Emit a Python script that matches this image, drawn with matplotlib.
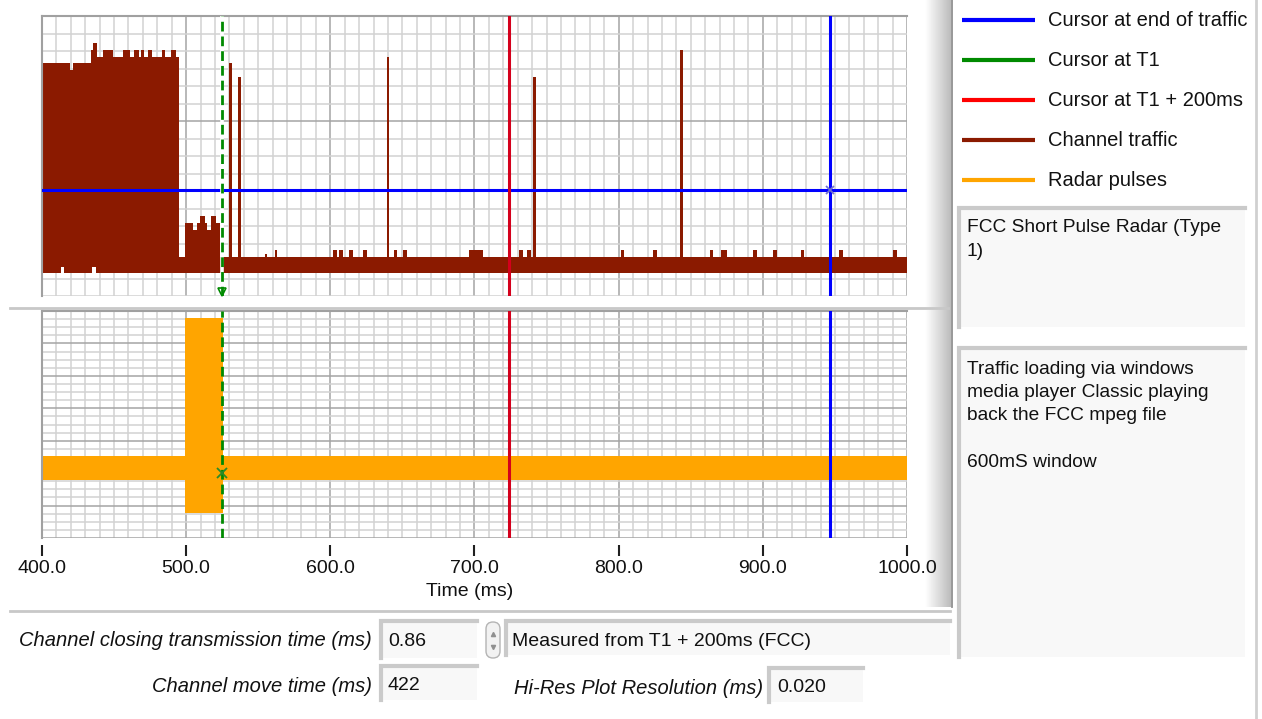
import numpy as np
import matplotlib.pyplot as plt
from matplotlib.patches import Rectangle, FancyBboxPatch
from matplotlib.ticker import MultipleLocator, FormatStrFormatter

plt.rcParams['font.family'] = ['Liberation Sans', 'DejaVu Sans']

# channel traffic: upper envelope as steps (time ms, level)
upper_t = [400, 419.4, 421.7, 433.8, 435.6, 438.4, 442.5, 449.5, 456.4, 461.0, 463.8, 467.5,
           468.4, 470.7, 473.7, 476.0, 483.0, 485.3, 489.3, 492.7, 495.3, 499.2, 505.0,
           507.3, 509.6, 513.0, 514.2, 517.0, 520.7, 523.5, 1000]
upper_v = [13.33, 12.91, 13.33, 14.06, 14.47, 13.64, 14.06, 13.64, 14.06, 13.64, 14.06, 13.64,
           14.06, 13.64, 14.06, 13.64, 14.06, 13.64, 14.06, 13.64, 2.21, 4.19, 3.77,
           4.19, 4.57, 4.19, 3.77, 4.57, 4.19, 2.21, 2.21]
lower_t = [400, 413.2, 415.5, 434.5, 437.2, 1000]
lower_v = [1.33, 1.68, 1.33, 1.68, 1.33, 1.33]

# isolated traffic spikes (start, end, top)
spike_start = [529.6, 535.8, 639.1, 740.8, 842.5]
spike_end = [531.6, 537.9, 640.7, 742.6, 844.6]
spike_top = [13.33, 12.5, 13.66, 12.5, 14.06]

# small bumps on the traffic baseline
bump_start = [554.7, 561.6, 601.6, 606.2, 613.2, 622.9, 644.2, 650.6, 696.4, 731.0, 736.6,
              801.4, 824.0, 863.4, 870.8, 893.4, 907.3, 926.3, 953.0, 990.5]
bump_end = [555.9, 563.2, 604.4, 609.0, 616.0, 625.6, 646.4, 653.0, 706.1, 733.8, 738.9,
            803.7, 826.3, 865.7, 875.4, 895.7, 909.6, 928.6, 955.4, 992.8]
bump_top = [2.4] + [2.63] * 19

# radar pulses envelope
radar_t = [400, 499.2, 525.5, 1000]
radar_hi = [2.54, 6.78, 2.54, 2.54]
radar_lo = [1.79, 0.76, 1.79, 1.79]

# cursors
t1 = 524.9
t1_200 = 724.2
t_end = 946.3
h_cursor = 6.06
radar_mark = 2.0

legend_labels = ['Cursor at end of traffic', 'Cursor at T1', 'Cursor at T1 + 200ms',
                 'Channel traffic', 'Radar pulses']
legend_colors = ['#0000ff', '#008a00', '#ff0000', '#8b1a00', '#ffa500']

note1 = ['FCC Short Pulse Radar (Type', '1)']
note2 = ['Traffic loading via windows', 'media player Classic playing',
         'back the FCC mpeg file', '', '600mS window']

BROWN = '#8b1a00'
ORANGE = '#ffa500'

W, H = 1262, 719
fig = plt.figure(figsize=(W / 100, H / 100), dpi=100)


def box(x0, y0, x1, y1):
    return [x0 / W, 1 - y1 / H, (x1 - x0) / W, (y1 - y0) / H]


# ui layer in pixel coordinates
ui = fig.add_axes([0, 0, 1, 1])
ui.set_zorder(0)
ui.axis('off')

grad = np.linspace(1.0, 0.74, 40)[None, :]
ui.imshow(grad, extent=[925, 951, 607, 0], cmap='gray', vmin=0, vmax=1, aspect='auto')
ui.plot([952, 952], [0, 607], color='#909090', lw=1.3)
ui.plot([10, 948], [308, 308], color='#c8c8c8', lw=2)
ui.plot([10, 950], [611, 611], color='#c8c8c8', lw=2)
ui.plot([1256, 1256], [0, H], color='#d0d0d0', lw=2)


def bevel(x0, y0, x1, y1):
    ui.add_patch(Rectangle((x0, y0), x1 - x0, y1 - y0, facecolor='#f8f8f8', edgecolor='none'))
    ui.plot([x0 + 1, x0 + 1, x1], [y1, y0 + 1, y0 + 1], color='#cacaca', lw=3,
            solid_joinstyle='miter')


bevel(958, 207, 1245, 327)
bevel(958, 347, 1245, 657)
bevel(380, 620, 477, 658)
bevel(380, 665, 477, 700)
bevel(505, 620, 950, 655)
bevel(768, 667, 863, 702)

ui.add_patch(FancyBboxPatch((486, 622), 14, 36, boxstyle='round,pad=0,rounding_size=7',
                            facecolor='#f2f2f2', edgecolor='#b4b4b4', lw=1))
ui.plot([493], [634], marker='^', ms=3, color='#909090')
ui.plot([493], [647], marker='v', ms=3, color='#909090')

fs = 14
fs_big = 14.5
for i, (lab, col) in enumerate(zip(legend_labels, legend_colors)):
    y = 20 + 40 * i
    ui.plot([962, 1035], [y, y], color=col, lw=3.0, solid_capstyle='butt')
    ui.text(1048, y, lab, fontsize=fs_big, va='center', ha='left', color='#111')

for i, line in enumerate(note1):
    ui.text(967, 228 + 23.5 * i, line, fontsize=13.8, va='center', color='#111')
for i, line in enumerate(note2):
    ui.text(967, 369 + 23.3 * i, line, fontsize=13.8, va='center', color='#111')

ui.text(372, 641, 'Channel closing transmission time (ms)', fontsize=fs_big, style='italic',
        ha='right', va='center', color='#111')
ui.text(372, 686, 'Channel move time (ms)', fontsize=fs_big, style='italic',
        ha='right', va='center', color='#111')
ui.text(763, 688, 'Hi-Res Plot Resolution (ms)', fontsize=fs_big, style='italic',
        ha='right', va='center', color='#111')
ui.text(388, 641, '0.86', fontsize=fs, va='center', color='#111')
ui.text(388, 686, '422', fontsize=fs, va='center', color='#111')
ui.text(512, 641, 'Measured from T1 + 200ms (FCC)', fontsize=fs, va='center', color='#111')
ui.text(777, 688, '0.020', fontsize=fs, va='center', color='#111')
ui.text(470, 592, 'Time (ms)', fontsize=fs, ha='center', va='center', color='#111')

ui.set_xlim(0, W)
ui.set_ylim(H, 0)


def style_grid(ax):
    ax.set_facecolor('white')
    ax.xaxis.set_major_locator(MultipleLocator(100))
    ax.xaxis.set_minor_locator(MultipleLocator(10))
    ax.grid(which='minor', color='#d2d2d2', lw=1.1)
    ax.grid(which='major', color='#a4a4a4', lw=1.1)
    ax.set_axisbelow(True)
    for s in ['right', 'bottom']:
        ax.spines[s].set_visible(False)
    for s in ['left', 'top']:
        ax.spines[s].set_color('#a0a0a0')
        ax.spines[s].set_linewidth(1.5)


# top plot: channel traffic
top = fig.add_axes(box(42, 16, 907, 296))
top.set_zorder(1)
style_grid(top)
top.set_xlim(400, 1000)
top.set_ylim(0, 16)
top.set_yticks([10])
top.yaxis.set_minor_locator(MultipleLocator(1))
top.tick_params(which='both', length=0, labelbottom=False, labelleft=False)

times = np.unique(np.concatenate([upper_t, lower_t]))
hi = np.array(upper_v)[np.searchsorted(upper_t, times, side='right') - 1]
lo = np.array(lower_v)[np.searchsorted(lower_t, times, side='right') - 1]
top.fill_between(times, lo, hi, step='post', color=BROWN, lw=0, zorder=2)
s0 = np.array(spike_start)
top.bar(s0, np.array(spike_top) - 2.0, width=np.array(spike_end) - s0, bottom=2.0,
        align='edge', color=BROWN, lw=0, zorder=2)
b0 = np.array(bump_start)
top.bar(b0, np.array(bump_top) - 2.0, width=np.array(bump_end) - b0, bottom=2.0,
        align='edge', color=BROWN, lw=0, zorder=2)

top.axhline(h_cursor, color='#0000ff', lw=2.2, zorder=3)
top.axvline(t_end, color='#0000ff', lw=2.2, zorder=3)
top.axvline(t1_200, color='#d4001c', lw=2.2, zorder=3)
top.axvline(t1, color='white', lw=2.6, zorder=3)
top.axvline(t1, color='#008a00', lw=2, dashes=(3.5, 1.8), zorder=4)
top.plot([t1], [0.25], marker='v', ms=6, mfc='none', mew=1.2, color='#008a00', zorder=5,
         clip_on=False)
top.plot([t_end], [h_cursor], marker='x', ms=6, mew=1.3, color='#7070d0', zorder=5)

# bottom plot: radar pulses
bot = fig.add_axes(box(42, 311, 907, 538))
bot.set_zorder(1)
style_grid(bot)
bot.set_xlim(400, 1000)
bot.set_ylim(0, 7)
bot.yaxis.set_major_locator(MultipleLocator(1))
bot.yaxis.set_minor_locator(MultipleLocator(0.25))
bot.tick_params(axis='y', which='both', length=0, labelleft=False)
bot.tick_params(axis='x', which='minor', length=0)
bot.tick_params(axis='x', which='major', length=8, width=1.5, color='#202020',
                direction='out', pad=3, labelsize=fs, labelcolor='#111')
bot.spines['bottom'].set_position(('outward', 5))
bot.xaxis.set_major_formatter(FormatStrFormatter('%.1f'))

bot.fill_between(radar_t, radar_lo, radar_hi, step='post', color=ORANGE, lw=0, zorder=2)
bot.axvline(t_end, color='#0000ff', lw=2.2, zorder=3)
bot.axvline(t1_200, color='#d4001c', lw=2.2, zorder=3)
bot.axvline(t1, color='#008a00', lw=2, dashes=(3.5, 1.8), zorder=4)
bot.plot([t1], [radar_mark], marker='x', ms=7, mew=1.3, color='#2a8a2a', zorder=5)

fig.savefig('out.png', dpi=100, facecolor='white')
